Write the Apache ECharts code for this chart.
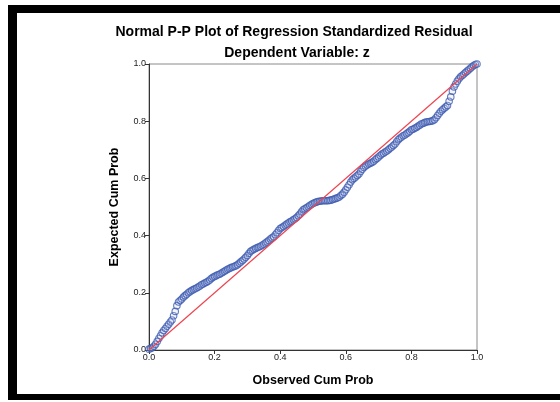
<!DOCTYPE html>
<html><head><meta charset="utf-8">
<script src="https://cdn.jsdelivr.net/npm/echarts@6/dist/echarts.min.js"></script>
<style>html,body{margin:0;padding:0;background:#fff}#c{width:560px;height:402px}</style>
</head><body><div id="c"></div>
<script>
const titleText = "Normal P-P Plot of Regression Standardized Residual";
const subtitleText = "Dependent Variable: z";
const xName = "Observed Cum Prob";
const yName = "Expected Cum Prob";
const tickValues = [0.0, 0.2, 0.4, 0.6, 0.8, 1.0];
const observed = [0.000,0.005,0.010,0.015,0.020,0.025,0.030,0.035,0.040,0.045,0.050,0.055,0.060,0.065,0.070,0.075,0.080,0.085,0.090,0.095,
0.100,0.105,0.110,0.115,0.120,0.125,0.130,0.135,0.140,0.145,0.150,0.155,0.160,0.165,0.170,0.175,0.180,0.185,0.190,0.195,
0.200,0.205,0.210,0.215,0.220,0.225,0.230,0.235,0.240,0.245,0.250,0.255,0.260,0.265,0.270,0.275,0.280,0.285,0.290,0.295,
0.300,0.305,0.310,0.315,0.320,0.325,0.330,0.335,0.340,0.345,0.350,0.355,0.360,0.365,0.370,0.375,0.380,0.385,0.390,0.395,
0.400,0.405,0.410,0.415,0.420,0.425,0.430,0.435,0.440,0.445,0.450,0.455,0.460,0.465,0.470,0.475,0.480,0.485,0.490,0.495,
0.500,0.505,0.510,0.515,0.520,0.525,0.530,0.535,0.540,0.545,0.550,0.555,0.560,0.565,0.570,0.575,0.580,0.585,0.590,0.595,
0.600,0.605,0.610,0.615,0.620,0.625,0.630,0.635,0.640,0.645,0.650,0.655,0.660,0.665,0.670,0.675,0.680,0.685,0.690,0.695,
0.700,0.705,0.710,0.715,0.720,0.725,0.730,0.735,0.740,0.745,0.750,0.755,0.760,0.765,0.770,0.775,0.780,0.785,0.790,0.795,
0.800,0.805,0.810,0.815,0.820,0.825,0.830,0.835,0.840,0.845,0.850,0.855,0.860,0.865,0.870,0.875,0.880,0.885,0.890,0.895,
0.900,0.905,0.910,0.915,0.920,0.925,0.930,0.935,0.940,0.945,0.950,0.955,0.960,0.965,0.970,0.975,0.980,0.985,0.990,0.995,1.000];
const expected = [0.003,0.005,0.008,0.013,0.020,0.030,0.040,0.050,0.060,0.068,0.075,0.083,0.090,0.098,0.105,0.120,0.135,0.155,0.168,0.173,
0.178,0.185,0.190,0.195,0.200,0.204,0.208,0.211,0.214,0.217,0.220,0.224,0.228,0.231,0.234,0.237,0.240,0.245,0.250,0.254,
0.257,0.260,0.263,0.265,0.268,0.272,0.275,0.279,0.282,0.285,0.288,0.290,0.292,0.295,0.298,0.303,0.308,0.313,0.318,0.324,
0.330,0.338,0.345,0.349,0.352,0.355,0.358,0.360,0.363,0.366,0.370,0.374,0.378,0.383,0.388,0.392,0.396,0.403,0.410,0.418,
0.425,0.428,0.432,0.436,0.440,0.444,0.448,0.451,0.455,0.459,0.463,0.469,0.475,0.483,0.490,0.494,0.497,0.501,0.505,0.509,
0.512,0.515,0.517,0.519,0.520,0.521,0.522,0.522,0.522,0.522,0.523,0.524,0.526,0.528,0.530,0.532,0.535,0.540,0.545,0.552,
0.560,0.569,0.578,0.587,0.595,0.600,0.605,0.610,0.615,0.624,0.632,0.638,0.643,0.647,0.650,0.653,0.656,0.660,0.665,0.670,
0.675,0.680,0.685,0.688,0.692,0.696,0.700,0.705,0.710,0.715,0.720,0.728,0.735,0.740,0.745,0.749,0.752,0.756,0.760,0.765,
0.770,0.772,0.775,0.778,0.782,0.786,0.790,0.792,0.795,0.797,0.798,0.799,0.800,0.802,0.805,0.812,0.820,0.828,0.835,0.840,
0.845,0.850,0.855,0.870,0.885,0.905,0.920,0.930,0.940,0.948,0.955,0.960,0.965,0.970,0.975,0.980,0.985,0.990,0.995,0.998,1.000];
const refLine = [[0,0],[1,1]];

const chart = echarts.init(document.getElementById('c'), null, {renderer:'canvas'});
const font = "'Liberation Sans', Arial, sans-serif";
chart.setOption({
  animation:false,
  backgroundColor:'#fff',
  title:[
    {text:titleText,left:289,top:20,textAlign:'center',textStyle:{fontFamily:font,fontSize:14,fontWeight:'bold',color:'#000'}},
    {text:subtitleText,left:292,top:41,textAlign:'center',textStyle:{fontFamily:font,fontSize:14,fontWeight:'bold',color:'#000'}}
  ],
  grid:{left:149,top:64,width:328,height:286,show:true,borderColor:'#8a8a8a',borderWidth:1,backgroundColor:'transparent'},
  xAxis:{type:'value',min:0,max:1,interval:0.2,
    name:xName,nameLocation:'middle',nameGap:24,
    nameTextStyle:{fontFamily:font,fontSize:12.5,fontWeight:'bold',color:'#000'},
    axisLine:{lineStyle:{color:'#333',width:1}},
    axisTick:{show:true,length:4,lineStyle:{color:'#333'}},
    axisLabel:{fontFamily:font,fontSize:9,color:'#222',margin:3,formatter:v=>v.toFixed(1)},
    splitLine:{show:false}},
  yAxis:{type:'value',min:0,max:1,interval:0.2,
    name:yName,nameLocation:'middle',nameGap:28,
    nameTextStyle:{fontFamily:font,fontSize:12.5,fontWeight:'bold',color:'#000'},
    axisLine:{lineStyle:{color:'#333',width:1}},
    axisTick:{show:true,length:4,lineStyle:{color:'#333'}},
    axisLabel:{fontFamily:font,fontSize:9,color:'#222',margin:3,formatter:v=>v.toFixed(1)},
    splitLine:{show:false}},
  series:[
    {type:'line',data:refLine,symbol:'none',lineStyle:{color:'#ee4450',width:1.2},z:3},
    {type:'scatter',data:observed.map((x,i)=>[x,expected[i]]),symbol:'circle',symbolSize:6.5,
      itemStyle:{color:'rgba(200,210,240,0.25)',borderColor:'#3f5bb0',borderWidth:1.1},z:2}
  ],
  graphic:[
    {type:'rect',shape:{x:8,y:5,width:552,height:8},style:{fill:'#000'}},
    {type:'rect',shape:{x:8,y:5,width:9,height:395},style:{fill:'#000'}},
    {type:'rect',shape:{x:8,y:394,width:552,height:6},style:{fill:'#000'}}
  ]
});
</script></body></html>
